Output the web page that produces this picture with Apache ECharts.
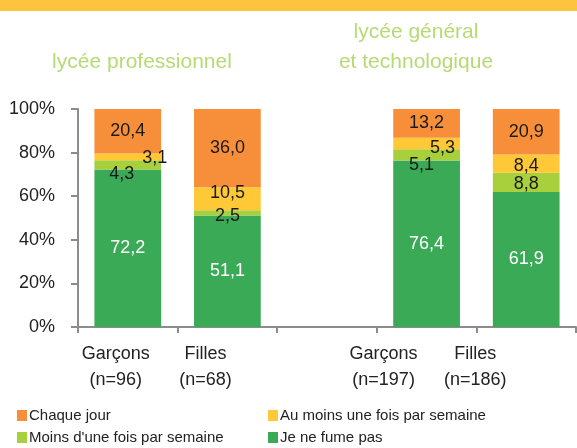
<!DOCTYPE html>
<html>
<head>
<meta charset="utf-8">
<script src="https://cdn.jsdelivr.net/npm/echarts@6/dist/echarts.min.js"></script>
<style>
  html, body { margin: 0; padding: 0; background: #fff; }
  #chart { width: 577px; height: 448px; }
</style>
</head>
<body>
<div id="chart"></div>
<script>
// données
var categories = ['Garçons\n(n=96)', 'Filles\n(n=68)', '', 'Garçons\n(n=197)', 'Filles\n(n=186)'];
var jeNeFumePas = [72.2, 51.1, '-', 76.4, 61.9];
var moinsUneFois = [4.3, 2.5, '-', 5.1, 8.8];
var auMoinsUneFois = [3.1, 10.5, '-', 5.3, 8.4];
var chaqueJour = [20.4, 36.0, '-', 13.2, 20.9];
var yTicks = [0, 20, 40, 60, 80, 100];

var fontFam = "'Liberation Sans', Arial, sans-serif";

// décalages des étiquettes (placement)
var catShift = [24, 44, 0, 86, 102];
var offsets = {
  moins: [[-6, 9], [0, 3], null, [-5, 10], [0, 2]],
  auMoins: [[27, 1], [0, -6], null, [16, 4], [0, 2]]
};
var legendPos = [
  ['Chaque jour', 17, 408],
  ["Moins d'une fois par semaine", 17, 430],
  ['Au moins une fois par semaine', 268, 408],
  ['Je ne fume pas', 268, 430]
];

function withOffsets(values, offs) {
  return values.map(function (v, i) {
    if (!offs || !offs[i]) return v;
    return { value: v, label: { offset: offs[i] } };
  });
}

function fmt(p) {
  return p.value.toFixed(1).replace('.', ',');
}

function barSerie(name, color, data, labelColor) {
  return {
    name: name,
    type: 'bar',
    stack: 'total',
    barWidth: '67%',
    itemStyle: { color: color },
    label: {
      show: true,
      position: 'inside',
      formatter: fmt,
      color: labelColor || '#1a1a1a',
      fontFamily: fontFam,
      fontSize: 18
    },
    data: data
  };
}

var myChart = echarts.init(document.getElementById('chart'));
var option = {
  animation: false,
  textStyle: { fontFamily: fontFam },
  graphic: [{
    type: 'rect',
    left: 0,
    top: 0,
    shape: { width: 577, height: 11 },
    style: { fill: '#FFC43D' }
  }],
  title: [
    {
      text: 'lycée professionnel',
      left: 137,
      top: 42,
      textAlign: 'center',
      textStyle: { color: '#B6DA74', fontSize: 21, fontWeight: 'normal', fontFamily: fontFam, lineHeight: 30 }
    },
    {
      text: 'lycée général\net technologique',
      left: 411,
      top: 12,
      textAlign: 'center',
      textStyle: { color: '#B6DA74', fontSize: 21, fontWeight: 'normal', fontFamily: fontFam, lineHeight: 30 }
    }
  ],
  legend: legendPos.map(function (l) {
    return {
      left: l[1],
      top: l[2],
      padding: 0,
      icon: 'rect',
      itemWidth: 10,
      itemHeight: 11,
      textStyle: { color: '#222', fontSize: 15, padding: [0, 0, 0, -3] },
      data: [l[0]]
    };
  }),
  grid: { left: 78, right: 1, top: 109, bottom: 121, outerBoundsMode: 'none' },
  xAxis: {
    type: 'category',
    data: categories.map(function (c, i) {
      return { value: c, textStyle: { padding: [0, catShift[i], 0, 0] } };
    }),
    axisLine: { lineStyle: { color: '#8c8c8c', width: 2 } },
    axisTick: { show: true, length: 6, interval: 0, lineStyle: { color: '#8c8c8c', width: 2 } },
    axisLabel: {
      interval: 0,
      margin: 14,
      color: '#222',
      fontSize: 18,
      lineHeight: 26,
      fontFamily: fontFam
    }
  },
  yAxis: {
    type: 'value',
    min: yTicks[0],
    max: yTicks[yTicks.length - 1],
    interval: 20,
    splitLine: { show: false },
    axisLine: { show: true, lineStyle: { color: '#8c8c8c', width: 2 } },
    axisTick: { show: true, length: 7, lineStyle: { color: '#8c8c8c', width: 2 } },
    axisLabel: {
      margin: 23,
      color: '#222',
      fontSize: 18,
      fontFamily: fontFam,
      formatter: '{value}%'
    }
  },
  series: [
    barSerie('Je ne fume pas', '#3BAA57', jeNeFumePas, '#fff'),
    barSerie("Moins d'une fois par semaine", '#A8CF3C', withOffsets(moinsUneFois, offsets.moins)),
    barSerie('Au moins une fois par semaine', '#FFC836', withOffsets(auMoinsUneFois, offsets.auMoins)),
    barSerie('Chaque jour', '#F78F3A', chaqueJour)
  ]
};
myChart.setOption(option);
</script>
</body>
</html>
